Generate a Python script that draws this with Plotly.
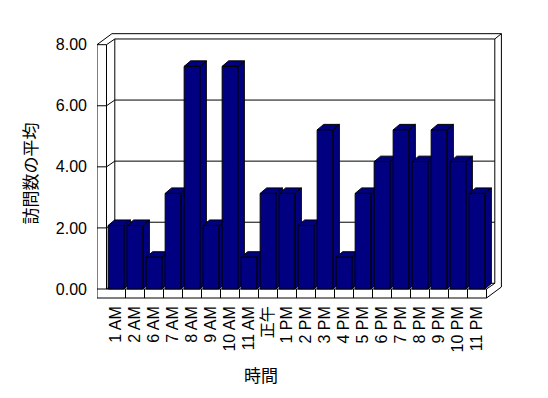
import plotly.graph_objects as go

# ---- data ----
categories = ["1 AM", "2 AM", "6 AM", "7 AM", "8 AM", "9 AM", "10 AM", "11 AM", "正午",
              "1 PM", "2 PM", "3 PM", "4 PM", "5 PM", "6 PM", "7 PM", "8 PM", "9 PM",
              "10 PM", "11 PM"]
values = [2.08, 2.08, 1.04, 3.13, 7.29, 2.08, 7.29, 1.04, 3.13,
          3.13, 2.08, 5.21, 1.04, 3.13, 4.17, 5.21, 4.17, 5.21,
          4.17, 3.13]
y_ticks = [0, 2, 4, 6, 8]
y_title = "訪問数の平均"
x_title = "時間"

# ---- geometry (styling) ----
OFF = 8                      # page body margin
W, H = 548 - OFF, 398 - OFF
ML, MT = 97 - OFF, 33 - OFF
PW, PH = 406, 266
PX_X = 19.0      # px per category
PX_Y = 30.54     # px per value unit
n = len(categories)
x0 = -1.0
x1 = x0 + PW / PX_X
ybot = -(299 - 289) / PX_Y
ytop = ybot + PH / PX_Y

bw = 15.7 / PX_X                   # bar front width
bdx, bdy = 6.5 / PX_X, 5.5 / PX_Y  # bar depth
wdx, wdy = 8.3 / PX_X, 5.7 / PX_Y  # depth to back wall face
tdx, tdy = 6.6 / PX_X, 5.3 / PX_Y  # back wall thickness
fth = 9.0 / PX_Y                   # floor thickness
ymax = max(y_ticks)
xl_in = -0.5
xr_in = n - 0.5

navy = "#000080"
fig = go.Figure()

segs = []
def seg(a, b):
    segs.extend([a, b, (None, None)])

# left wall front face
seg((x0, ymax), (x0, -fth))
seg((xl_in, ymax), (xl_in, 0))
seg((x0, ymax), (xl_in, ymax))
# floor front face
seg((x0, -fth), (xr_in, -fth))
seg((xl_in, 0), (xr_in, 0))
for k in range(1, n + 1):
    seg((k - 0.5, -fth), (k - 0.5, 0))
# floor right side
seg((xr_in, -fth), (xr_in + wdx + tdx, -fth + wdy + tdy))
seg((xr_in, 0), (xr_in + wdx, wdy))
# back wall right
seg((xr_in + wdx, wdy), (xr_in + wdx, ymax + wdy))
seg((xr_in + wdx + tdx, -fth + wdy + tdy), (xr_in + wdx + tdx, ymax + wdy + tdy))
seg((xr_in + wdx, ymax + wdy), (xr_in + wdx + tdx, ymax + wdy + tdy))
# top edges
seg((xl_in + wdx, ymax + wdy), (xr_in + wdx, ymax + wdy))
seg((x0 + wdx + tdx, ymax + wdy + tdy), (xr_in + wdx + tdx, ymax + wdy + tdy))
seg((x0, ymax), (x0 + wdx + tdx, ymax + wdy + tdy))
seg((xl_in, ymax), (xl_in + wdx, ymax + wdy))
seg((xl_in + wdx, wdy), (xl_in + wdx, ymax + wdy))
# gridlines
for v in y_ticks[:-1]:
    seg((x0, v), (xl_in, v))
    seg((xl_in, v), (xl_in + wdx, v + wdy))
    seg((xl_in + wdx, v + wdy), (xr_in + wdx, v + wdy))

fig.add_trace(go.Scatter(x=[p[0] for p in segs], y=[p[1] for p in segs], mode="lines",
                         line=dict(color="black", width=1), hoverinfo="skip",
                         showlegend=False, cliponaxis=False))

# bar sides and tops
sx, sy, tx, ty = [], [], [], []
for i, v in enumerate(values):
    xl, xr = i - bw / 2, i + bw / 2
    pts = [(xr, 0), (xr + bdx, bdy), (xr + bdx, v + bdy), (xr, v), (xr, 0)]
    sx += [p[0] for p in pts] + [None]
    sy += [p[1] for p in pts] + [None]
    pts = [(xl, v), (xl + bdx, v + bdy), (xr + bdx, v + bdy), (xr, v), (xl, v)]
    tx += [p[0] for p in pts] + [None]
    ty += [p[1] for p in pts] + [None]

fig.add_trace(go.Scatter(x=sx, y=sy, mode="lines", fill="toself", fillcolor=navy,
                         line=dict(color="black", width=1), hoverinfo="skip", showlegend=False))
fig.add_trace(go.Scatter(x=tx, y=ty, mode="lines", fill="toself", fillcolor=navy,
                         line=dict(color="black", width=1), hoverinfo="skip", showlegend=False))

# bar fronts on overlay axes (drawn above)
fig.add_trace(go.Bar(x=list(range(n)), y=values, width=bw, marker=dict(color=navy,
                     line=dict(color="black", width=1)), xaxis="x2", yaxis="y2",
                     showlegend=False, hovertext=categories))

font_lat = "Liberation Sans, Arial, Noto Sans CJK JP"
fig.update_layout(
    width=W, height=H,
    margin=dict(l=ML, r=W - ML - PW, t=MT, b=H - MT - PH),
    paper_bgcolor="white", plot_bgcolor="white",
    xaxis=dict(range=[x0, x1], tickvals=list(range(n)), ticktext=categories,
               tickangle=-90, showgrid=False, zeroline=False, showline=False, ticks="",
               ticklabelstandoff=3, automargin=False,
               tickfont=dict(family=font_lat, size=16, color="black")),
    yaxis=dict(range=[ybot, ytop], tickvals=y_ticks, tickformat=".2f",
               showgrid=False, zeroline=False, showline=False, ticks="",
               ticklabelstandoff=9, automargin=False,
               tickfont=dict(family=font_lat, size=16, color="black")),
    xaxis2=dict(range=[x0, x1], overlaying="x", visible=False),
    yaxis2=dict(range=[ybot, ytop], overlaying="y", visible=False),
    annotations=[
        dict(text=y_title, xref="paper", yref="paper", x=(29 - 97) / PW,
             y=(299 - 173.5) / PH, textangle=-90, showarrow=False,
             xanchor="center", yanchor="middle",
             font=dict(family="Noto Sans CJK JP", size=17, color="black")),
        dict(text=x_title, xref="paper", yref="paper", x=(260.5 - 97) / PW,
             y=(299 - 375) / PH, showarrow=False,
             xanchor="center", yanchor="middle",
             font=dict(family="Noto Sans CJK JP", size=17, color="black")),
    ],
)

fig.write_html("out.html")
